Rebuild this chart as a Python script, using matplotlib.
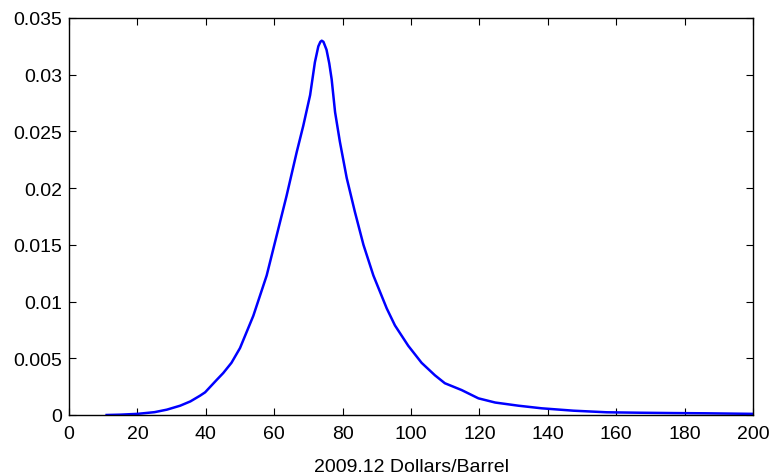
import matplotlib
matplotlib.use("Agg")
import matplotlib.pyplot as plt
import numpy as np

price = [11, 15, 20, 25, 28.6, 32.5, 35.5, 38.3, 39.8, 43.2, 45.1, 47.5, 50, 53.9,
         57.8, 60.7, 63.6, 64.6, 66.6, 68.5, 70.5, 71.9, 72.9, 73.5, 73.9, 74.4,
         75.3, 76.1, 76.8, 77.8, 79.2, 81.2, 83.6, 86.1, 89, 92.9, 95.3, 99.2,
         103.1, 107, 109.9, 114.8, 119.7, 124.6, 131.4, 138.2, 147.5, 157.2, 167,
         176.7, 186, 200]
density = [0.0, 0.00003, 0.0001, 0.00025, 0.00047, 0.00082, 0.0012, 0.0017, 0.002,
           0.0031, 0.0037, 0.0046, 0.0059, 0.00875,
           0.0123, 0.0158, 0.0193, 0.0206, 0.0232, 0.0255, 0.0282, 0.0311, 0.0325,
           0.0329, 0.0330, 0.0329,
           0.0322, 0.031, 0.0296, 0.0267, 0.0241, 0.0209, 0.0179, 0.0150, 0.0123,
           0.0094, 0.0079, 0.0061,
           0.0046, 0.0035, 0.0028, 0.0022, 0.00147, 0.0011, 0.00082, 0.00059,
           0.00038, 0.00024, 0.0002,
           0.00017, 0.00015, 0.0001]

plt.rcParams['font.family'] = ['Liberation Sans', 'DejaVu Sans']
fig = plt.figure(figsize=(7.69, 4.77), dpi=100)
ax = fig.add_axes([69/769, 61/477, 684/769, 397/477])
ax.plot(price, density, color=(0, 0, 1), lw=1.8, solid_joinstyle='round')
ax.set_xlim(0, 200)
ax.set_ylim(0, 0.035)
ax.set_xticks(np.arange(0, 201, 20))
ax.set_yticks([0, 0.005, 0.01, 0.015, 0.02, 0.025, 0.03, 0.035])
ax.set_yticklabels(['0', '0.005', '0.01', '0.015', '0.02', '0.025', '0.03', '0.035'])
ax.tick_params(direction='in', length=5, width=0.8, top=True, right=True, labelsize=14, pad=5)
ax.tick_params(axis='x', pad=7.5)
for s in ax.spines.values():
    s.set_linewidth(1.0)
ax.set_xlabel('2009.12 Dollars/Barrel', fontsize=14, labelpad=11)
fig.savefig('out.png', dpi=100)
